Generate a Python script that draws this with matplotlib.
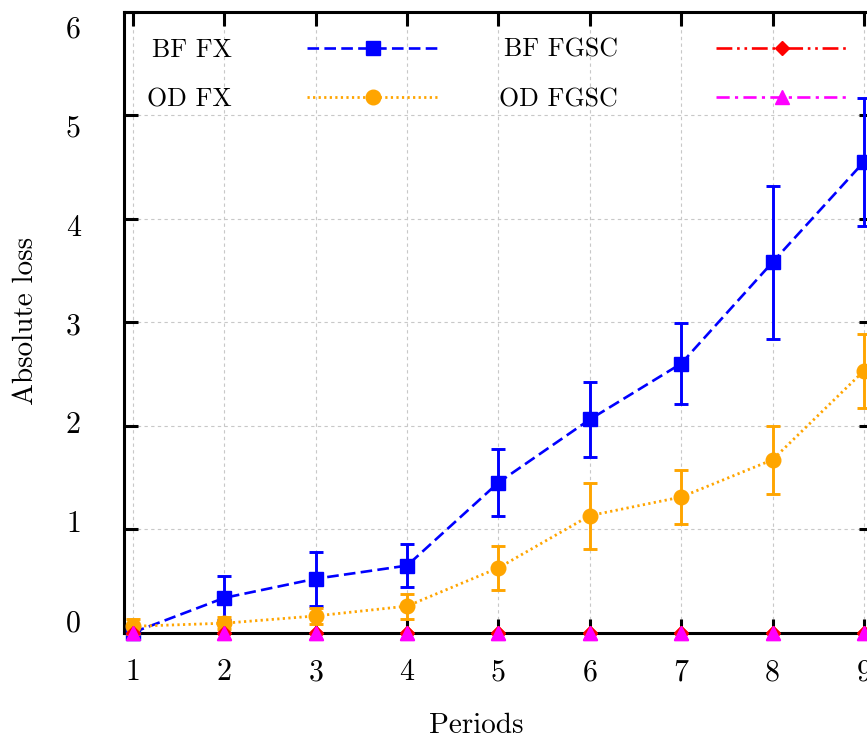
import matplotlib
matplotlib.use("Agg")
import matplotlib.pyplot as plt
import matplotlib.transforms as mtransforms
import numpy as np

plt.rcParams["font.family"] = ["cmr10", "DejaVu Serif"]
plt.rcParams["axes.formatter.use_mathtext"] = True
plt.rcParams["mathtext.fontset"] = "cm"

# Loss per period
periods = [1, 2, 3, 4, 5, 6, 7, 8, 9]
bf_fx = [0.0, 0.335, 0.52, 0.647, 1.45, 2.06, 2.60, 3.58, 4.55]
bf_fx_err = [0.0, 0.21, 0.26, 0.21, 0.32, 0.36, 0.39, 0.74, 0.62]
od_fx = [0.06, 0.09, 0.16, 0.255, 0.625, 1.13, 1.31, 1.67, 2.53]
od_fx_err = [0.07, 0.06, 0.08, 0.12, 0.21, 0.32, 0.26, 0.33, 0.36]
bf_fgsc = [0, 0, 0, 0, 0, 0, 0, 0, 0]
od_fgsc = [0, 0, 0, 0, 0, 0, 0, 0, 0]

x_ticks = [1, 2, 3, 4, 5, 6, 7, 8, 9]
y_ticks = [0, 1, 2, 3, 4, 5, 6]

W, H = 867, 740
fig = plt.figure(figsize=(W / 100, H / 100), dpi=100)
ax = fig.add_axes([124 / W, (H - 632.5) / H, 749 / W, 620.5 / H])

ax.set_xlim(0.9015, 9.1)
ax.set_ylim(0, 6)

eb_kw = dict(elinewidth=2.1, capsize=5.2, capthick=2.1, clip_on=False)

h1 = ax.errorbar(periods, bf_fx, yerr=bf_fx_err, color="#0000ff", marker="s",
                 markersize=10.5, lw=1.9, linestyle=(0, (4.4, 2.0)),
                 label="BF FX", zorder=4, **eb_kw)
h2 = ax.errorbar(periods, od_fx, yerr=od_fx_err, color="#ffa500", marker="o",
                 markersize=10.5, lw=2.0, linestyle=(0, (0.8, 1.2)),
                 label="OD FX", zorder=5, **eb_kw)
h3, = ax.plot(periods, bf_fgsc, color="#ff0000", marker="D", markersize=7,
              lw=1.9, linestyle=(0, (6, 1.8, 1, 1.8, 1, 1.8)),
              label="BF FGSC", zorder=2.2, clip_on=False)
h4, = ax.plot(periods, od_fgsc, color="#ff00ff", marker="^", markersize=9.5,
              lw=1.9, linestyle=(0, (5, 2, 1.2, 2)),
              label="OD FGSC", zorder=2.3, clip_on=False)
# FGSC markers sit on top of the axis frame
ax.plot(periods, bf_fgsc, color="#ff0000", marker="D", markersize=7,
        linestyle="none", zorder=6, clip_on=False)
ax.plot(periods, od_fgsc, color="#ff00ff", marker="^", markersize=9.5,
        linestyle="none", zorder=7, clip_on=False)

for c in (h1, h2):
    for bar in c[2]:
        bar.set_linestyle("-")

# Axes frame and ticks
for sp in ax.spines.values():
    sp.set_linewidth(2.2)
    sp.set_zorder(3)

ax.set_xticks(x_ticks)
ax.set_xticklabels([str(v) for v in x_ticks])
ax.set_yticks(y_ticks)
ax.set_yticklabels([str(v) for v in y_ticks])
ax.tick_params(axis="both", direction="in", length=10, width=2.2,
               top=True, right=True, labelsize=21.5)
ax.tick_params(axis="x", pad=19)
ax.tick_params(axis="y", pad=31)

# Stagger the y tick labels slightly along the axis
for v, lab in zip(y_ticks, ax.get_yticklabels()):
    shift_px = -12 + 4.5 * v
    off = mtransforms.ScaledTranslation(0, -shift_px / 100, fig.dpi_scale_trans)
    lab.set_transform(lab.get_transform() + off)

ax.grid(True, color="#c8c8c8", linestyle=(0, (3, 3)), linewidth=0.8)
ax.set_axisbelow(True)

ax.set_xlabel("Periods", fontsize=21)
ax.xaxis.set_label_coords((476 - 124) / 749, -0.129)
ax.set_ylabel("Absolute loss", fontsize=21)
ax.yaxis.set_label_coords(-0.1135, 0.502)

leg_kw = dict(frameon=False, markerfirst=False, fontsize=18.6, loc="upper left",
              borderpad=0, borderaxespad=0, labelspacing=1.0, handlelength=5.15)
leg1 = ax.legend(handles=[h1[0], h2[0]], labels=["BF FX", "OD FX"],
                 bbox_to_anchor=((147 - 124) / 749, 0.958),
                 handletextpad=2.9, **leg_kw)
ax.add_artist(leg1)
leg2 = ax.legend(handles=[h3, h4], labels=["BF FGSC", "OD FGSC"],
                 bbox_to_anchor=((499 - 124) / 749, 0.958),
                 handletextpad=3.8, **leg_kw)

fig.savefig("out.png", dpi=100)
